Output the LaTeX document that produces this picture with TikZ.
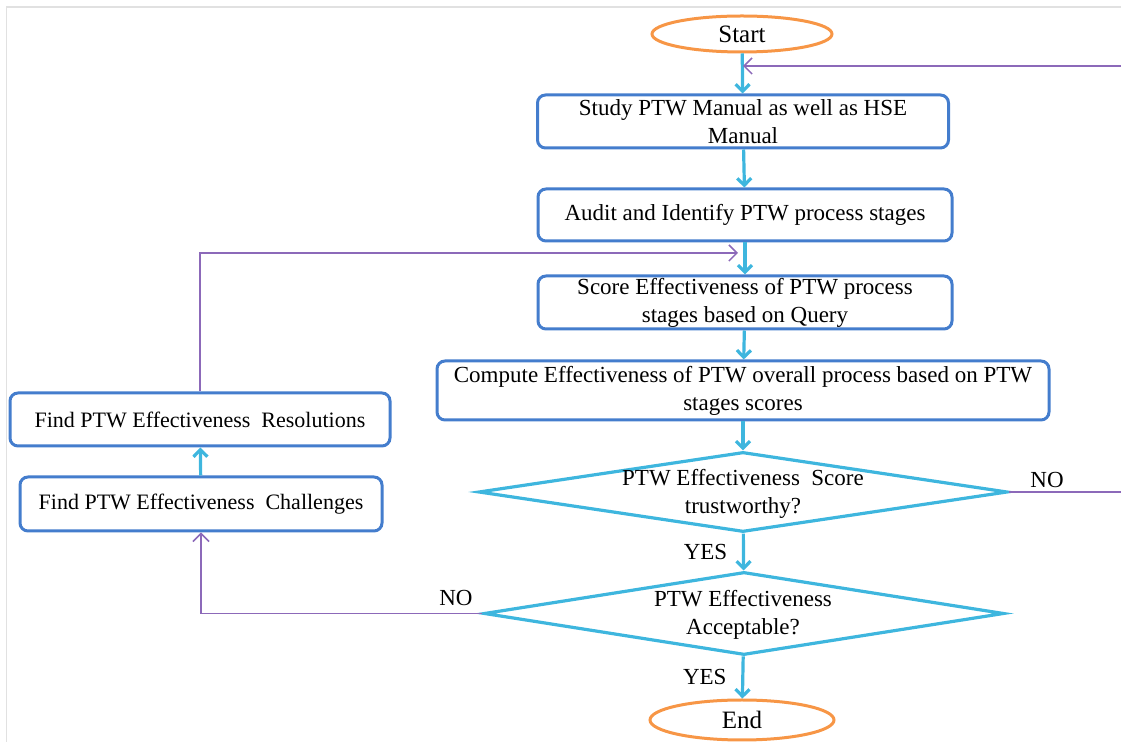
\documentclass[tikz,border=0pt]{standalone}
\usepackage{fontspec}
\setmainfont{Liberation Serif}
\usetikzlibrary{shapes.geometric,arrows.meta}

\definecolor{boxblue}{RGB}{68,125,205}
\definecolor{flowcyan}{RGB}{62,182,222}
\definecolor{termorange}{RGB}{247,150,70}
\definecolor{loopviolet}{RGB}{140,105,185}
\definecolor{framegray}{RGB}{225,225,225}

\tikzset{
  stepbox/.style={draw=boxblue, line width=1.5pt, rounded corners=4pt, align=center,
    inner sep=0pt, font=\fontsize{11.5}{14}\selectfont},
  sidebox/.style={stepbox, font=\fontsize{11}{14}\selectfont},
  terminal/.style={draw=termorange, line width=1.5pt, ellipse, inner sep=0pt,
    font=\fontsize{12.5}{14}\selectfont},
  decision/.style={draw=flowcyan, line width=1.6pt, diamond, inner sep=0pt},
  dectext/.style={align=center, font=\fontsize{11.5}{14}\selectfont},
  flow/.style={draw=flowcyan, line width=1.6pt, -{Straight Barb[length=3.5pt,width=7pt]}},
  loop/.style={draw=loopviolet, line width=0.75pt, -{Straight Barb[length=4pt,width=8pt]}},
  answer/.style={font=\fontsize{11.5}{14}\selectfont}
}

\begin{document}
\begin{tikzpicture}[x=0.5pt, y=-0.5pt]
	\useasboundingbox (0,0) rectangle (1121,742);

	% marco gris
	\draw[color=framegray, line width=0.75pt] (6.5,742) -- (6.5,7) -- (1121,7);

	% inicio y pasos
	\node[terminal, minimum width=90pt, minimum height=18pt] (start) at (742,34) {Start};
	\node[stepbox, minimum width=205.5pt, minimum height=26.5pt] (study) at (743,121.5)
		{Study PTW Manual as well as HSE\\Manual};
	\node[stepbox, minimum width=207pt, minimum height=26pt] (audit) at (745,215)
		{Audit and Identify PTW process stages};
	\node[stepbox, minimum width=207pt, minimum height=26.5pt] (score) at (745,302.5)
		{Score Effectiveness of PTW process\\stages based on Query};
	\node[stepbox, minimum width=306pt, minimum height=29.5pt] (compute) at (743,390.5)
		{Compute Effectiveness of PTW overall process based on PTW\\stages scores};

	% decisiones
	\node[decision, minimum width=264.5pt, minimum height=40pt] (trust) at (743,492) {};
	\node[dectext] (trusttext) at (743,494) {PTW Effectiveness\ \ Score\\trustworthy?};
	\node[decision, minimum width=260pt, minimum height=41.5pt] (accept) at (744,613.5) {};
	\node[dectext] (accepttext) at (743,615) {PTW Effectiveness\\Acceptable?};

	\node[terminal, minimum width=92pt, minimum height=20pt] (end) at (742,720) {End};

	% lado izquierdo
	\node[sidebox, minimum width=190pt, minimum height=26.5pt] (resol) at (200,419.5)
		{Find PTW Effectiveness\ \ Resolutions};
	\node[sidebox, minimum width=181pt, minimum height=27pt] (chall) at (201,504)
		{Find PTW Effectiveness\ \ Challenges};

	% flechas principales
	\draw[flow] (start) -- (study);
	\draw[flow] (study) -- (audit);
	\draw[flow] (audit) -- (score);
	\draw[flow] (score) -- (compute);
	\draw[flow] (compute) -- (trust);
	\draw[flow] (trust) -- node[answer, left=4pt] (yes1) {YES} (accept);
	\draw[flow] (accept) -- node[answer, left=4pt] (yes2) {YES} (end);
	\draw[flow] (chall) -- (resol);

	% lazos de retorno
	\coordinate (backtop) at (743,66);
	\coordinate (backmid) at (738,253);
	\draw[loop] (trust.east) -- (1126,492) |- (backtop);
	\node[answer] (no1) at (1047,480) {NO};
	\draw[loop] (resol.north) |- (backmid);
	\draw[loop] (accept.west) -| (chall.south);
	\node[answer] (no2) at (456,598) {NO};
\end{tikzpicture}
\end{document}
